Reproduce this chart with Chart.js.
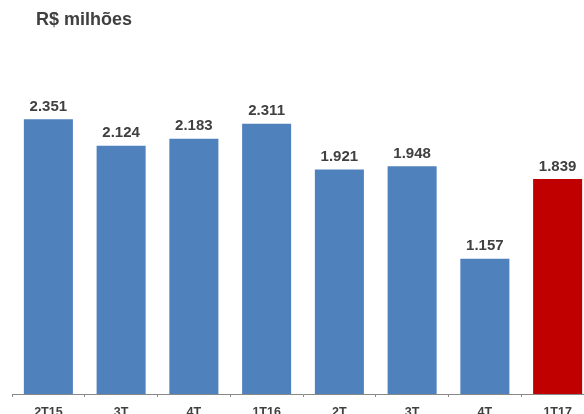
<!DOCTYPE html>
<html>
<head>
<meta charset="utf-8">
<script src="https://cdn.jsdelivr.net/npm/chart.js@4"></script>
<style>
  html, body { margin: 0; padding: 0; background: #fff; overflow: hidden; }
  #wrap { position: relative; width: 584px; height: 414px; overflow: hidden; }
  #box { position: absolute; left: 0; top: 0; width: 600px; height: 428px; }
  #title {
    position: absolute; left: 36px; top: 9px;
    font: bold 18px "Liberation Sans", Arial, sans-serif; color: #404040;
  }
</style>
</head>
<body>
<div id="wrap">
  <div id="box"><canvas id="chart"></canvas></div>
  <div id="title">R$ milhões</div>
</div>
<script>
// Quarterly values, R$ millions
const quarters = ['2T15', '3T', '4T', '1T16', '2T', '3T', '4T', '1T17'];
const values = [2351, 2124, 2183, 2311, 1921, 1948, 1157, 1839];
const barColors = ['#4F81BD', '#4F81BD', '#4F81BD', '#4F81BD', '#4F81BD', '#4F81BD', '#4F81BD', '#C00000'];

const fmt = v => v.toLocaleString('pt-BR');

// Value labels above each bar
const valueLabels = {
  id: 'valueLabels',
  afterDatasetsDraw(chart) {
    const ctx = chart.ctx;
    const meta = chart.getDatasetMeta(0);
    ctx.save();
    ctx.font = 'bold 15px "Liberation Sans", Arial, sans-serif';
    ctx.fillStyle = '#404040';
    ctx.textAlign = 'center';
    ctx.textBaseline = 'bottom';
    meta.data.forEach((bar, i) => {
      ctx.fillText(fmt(values[i]), bar.x, bar.y - 5);
    });
    ctx.restore();
  }
};

const ctx = document.getElementById('chart').getContext('2d');
new Chart(ctx, {
  type: 'bar',
  data: {
    labels: quarters,
    datasets: [{
      data: values,
      backgroundColor: barColors,
      barPercentage: 0.674,
      categoryPercentage: 1
    }]
  },
  options: {
    responsive: true,
    maintainAspectRatio: false,
    animation: false,
    layout: { padding: { left: 12, right: 6, top: 83, bottom: 0 } },
    plugins: {
      legend: { display: false },
      tooltip: { enabled: false }
    },
    scales: {
      x: {
        grid: {
          display: true,
          drawOnChartArea: false,
          drawTicks: true,
          tickLength: 3,
          color: '#888888'
        },
        border: { display: true, color: '#888888', width: 1 },
        ticks: {
          color: '#404040',
          padding: 8,
          font: { family: '"Liberation Sans", Arial, sans-serif', size: 12.5, weight: 'bold' }
        }
      },
      y: {
        display: false,
        min: 0,
        max: 2660
      }
    }
  },
  plugins: [valueLabels]
});
</script>
</body>
</html>
